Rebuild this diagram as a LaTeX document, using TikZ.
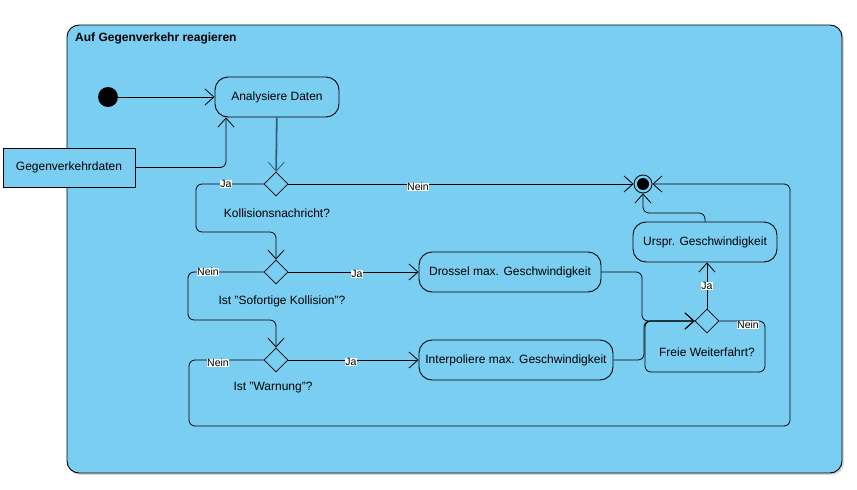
\documentclass[tikz,border=0pt]{standalone}
\usepackage{fontspec}
\setmainfont{Liberation Sans}
\usetikzlibrary{arrows.meta,shapes.geometric}
\definecolor{bluefill}{RGB}{122,206,242}
\definecolor{tealline}{RGB}{50,96,126}
\tikzset{
  x=1pt,y=-1pt,
  every node/.style={font=\fontsize{12}{14}\selectfont},
  container/.style={draw=black,fill=bluefill,rounded corners=12pt,line width=0.9pt},
  action/.style={draw=black,fill=bluefill,rounded corners=13pt,line width=0.9pt,minimum height=40pt,inner sep=0pt},
  objbox/.style={draw=black,fill=bluefill,line width=0.9pt,minimum height=39pt,inner sep=0pt},
  decision/.style={draw=black,fill=bluefill,diamond,minimum width=24pt,minimum height=24pt,inner sep=0pt,line width=0.8pt},
  flow/.style={draw=black,line width=0.8pt,rounded corners=6pt,-{Straight Barb[length=9pt,width=16pt,line width=0.8pt]}},
  lbl/.style={fill=white,inner sep=0.5pt,font=\fontsize{10.5}{12}\selectfont},
  caption/.style={font=\fontsize{12}{14}\selectfont},
}
\begin{document}
\begin{tikzpicture}
\useasboundingbox (0,0) rectangle (857,490);
% container
\fill[black!15,rounded corners=12pt] (69,27) rectangle (844,475);
\draw[container] (67,25) rectangle (842,473);
\node[anchor=west,inner sep=0pt,font=\bfseries\fontsize{12}{14}\selectfont] (title) at (75,38) {Auf Gegenverkehr reagieren};

% nodes
\node[circle,fill=black,minimum size=20pt,inner sep=0pt] (start) at (108,97) {};
\node[action,minimum width=124pt] (analyse) at (277,97) {Analysiere Daten};
\node[objbox,minimum width=132pt] (gegen) at (69,167.5) {Gegenverkehrdaten};
\node[decision] (d1) at (276,184) {};
\node[caption] (d1l) at (277,213) {Kollisionsnachricht?};
\node[decision] (d2) at (276,272) {};
\node[caption] (d2l) at (282,301) {Ist "Sofortige Kollision"?};
\node[decision] (d3) at (276,360) {};
\node[caption] (d3l) at (273,388) {Ist "Warnung"?};
\node[action,minimum width=182pt] (drossel) at (510,272) {Drossel max. Geschwindigkeit};
\node[action,minimum width=194pt] (interp) at (516,360) {Interpoliere max. Geschwindigkeit};
\node[decision] (d4) at (707,321) {};
\node[caption] (d4l) at (707,352) {Freie Weiterfahrt?};
\node[action,minimum width=144pt] (urspr) at (705,242) {Urspr. Geschwindigkeit};
\node[circle,draw=black,line width=0.8pt,fill=bluefill,minimum size=18pt,inner sep=0pt] (end) at (643,184) {};
\node[circle,fill=black,minimum size=12pt,inner sep=0pt] (endin) at (643,184) {};

% helper coordinates
\coordinate (c1) at (196,184);
\coordinate (c2) at (196,232);
\coordinate (c3) at (276,232);
\coordinate (c4) at (188,272);
\coordinate (c5) at (188,320);
\coordinate (c6) at (276,320);
\coordinate (c7) at (189,360);
\coordinate (c8) at (189,426);
\coordinate (c9) at (790,426);
\coordinate (c10) at (790,184);
\coordinate (c11) at (642,272);
\coordinate (c12) at (642,321);
\coordinate (c13) at (644,360);
\coordinate (c14) at (644,321);
\coordinate (c15) at (765,321);
\coordinate (c16) at (765,372);
\coordinate (c17) at (645,372);
\coordinate (c18) at (645,321);
\coordinate (c19) at (705,213);
\coordinate (c20) at (643,213);
\coordinate (c21) at (226,167.5);

% edges
\draw[flow] (start) -- (analyse);
\draw[flow] (gegen.east) -- (c21) -- (analyse.south west -| c21);
\draw[flow,draw=tealline,line width=1.8pt] (analyse) -- (d1);
\draw[flow] (d1.west) -- (c1) -- (c2) -- (c3) -- (d2.north);
\node[lbl] (ja1) at (226,184) {Ja};
\draw[flow] (d1.east) -- (end.west);
\node[lbl] (nein1) at (418,187) {Nein};
\draw[flow] (d2.east) -- (drossel.west);
\node[lbl] (ja2) at (357,274) {Ja};
\draw[flow] (d2.west) -- (c4) -- (c5) -- (c6) -- (d3.north);
\node[lbl] (nein2) at (208,272) {Nein};
\draw[flow] (d3.east) -- (interp.west);
\node[lbl] (ja3) at (351,362) {Ja};
\draw[flow] (d3.west) -- (c7) -- (c8) -- (c9) -- (c10) -- (end.east);
\node[lbl] (nein3) at (218,363) {Nein};
\draw[flow] (drossel.east) -- (c11) -- (c12) -- (d4.west);
\draw[flow] (interp.east) -- (c13) -- (c14) -- (d4.west);
\draw[flow] (d4.east) -- (c15) -- (c16) -- (c17) -- (c18) -- (d4.west);
\node[lbl] (nein4) at (748,325) {Nein};
\draw[flow] (d4.north) -- (urspr.south -| d4.north);
\node[lbl] (ja4) at (707,286) {Ja};
\draw[flow] (urspr.north) -- (c19) -- (c20) -- (end.south);
\end{tikzpicture}
\end{document}
